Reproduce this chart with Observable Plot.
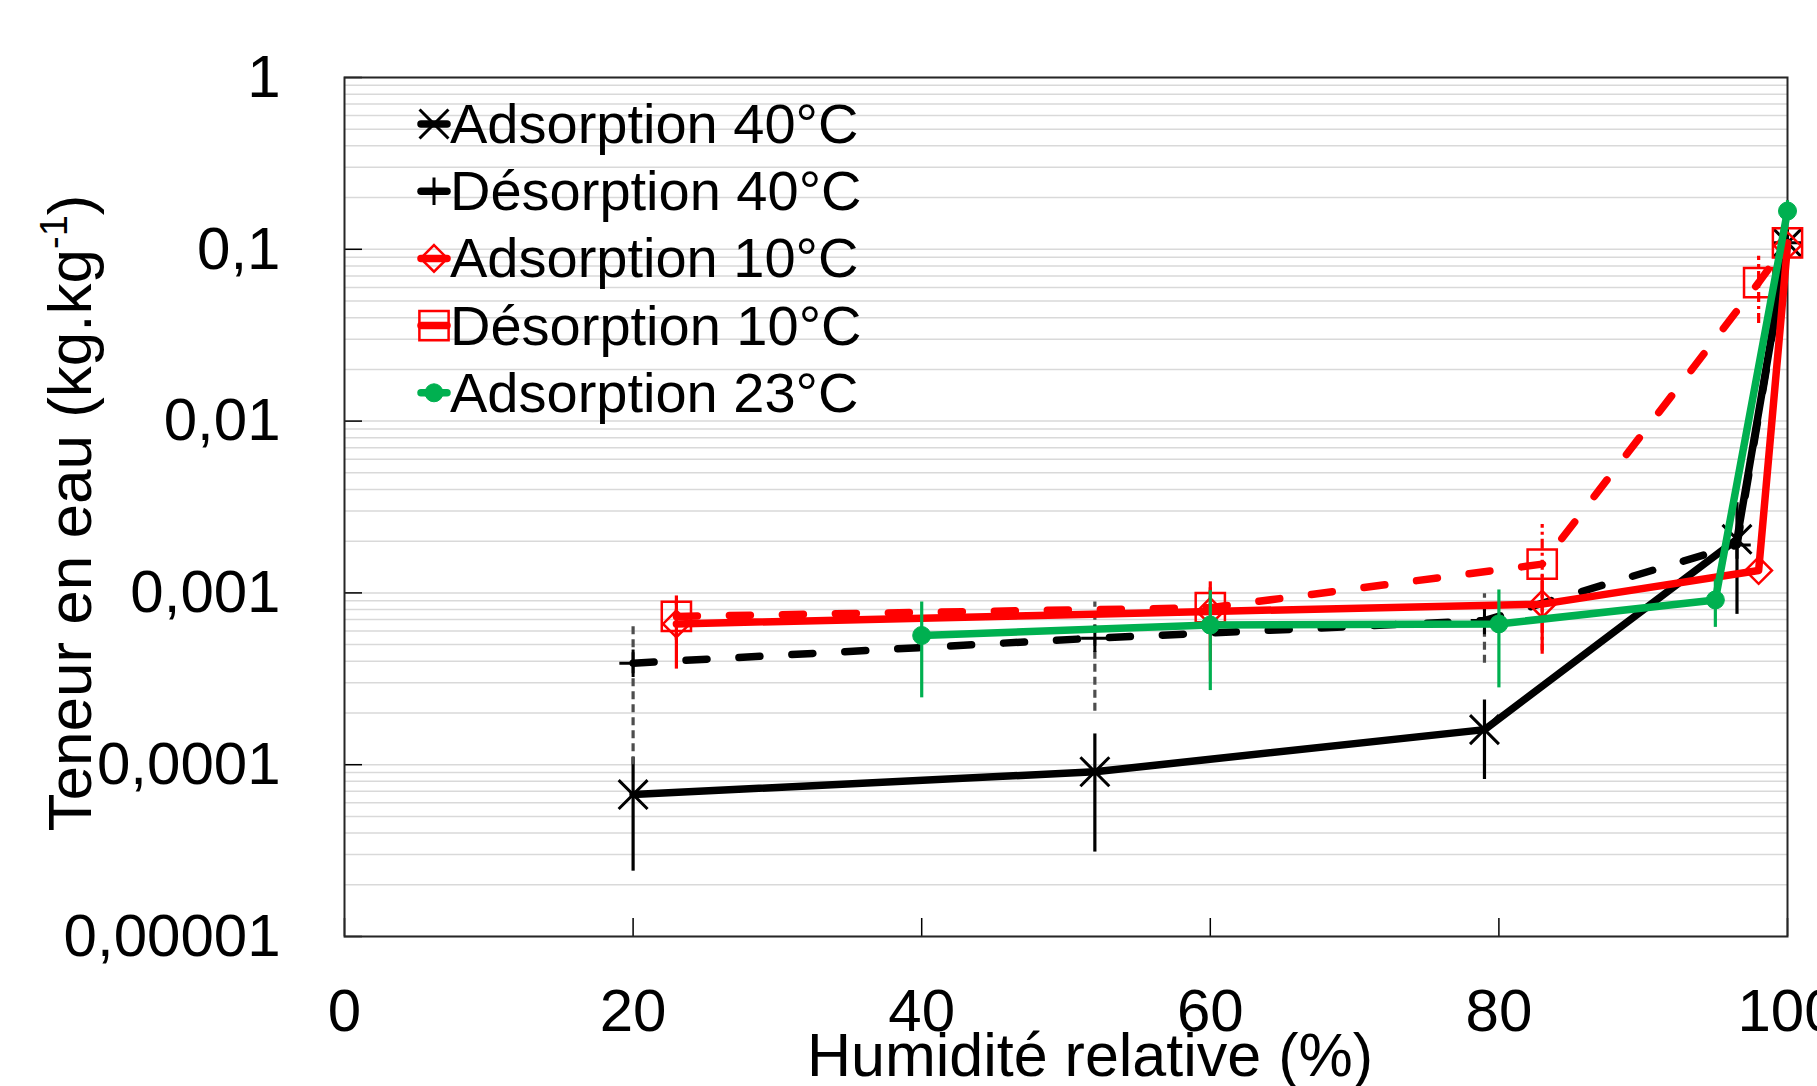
<!DOCTYPE html>
<html><head><meta charset="utf-8">
<script src="https://cdn.jsdelivr.net/npm/d3@7"></script>
<script src="https://cdn.jsdelivr.net/npm/@observablehq/plot@0.6"></script>
<style>
body{margin:0;background:#fff;}
#chart{position:relative;width:1817px;height:1086px;overflow:hidden;background:#fff}
</style>
</head><body><div id="chart"></div>
<script>
// ---- data ----
const xTicks = [0, 20, 40, 60, 80, 100];
const yTicks = [1e-5, 1e-4, 1e-3, 1e-2, 1e-1, 1];
const yTickLabels = ["0,00001", "0,0001", "0,001", "0,01", "0,1", "1"];
const seriesNames = ["Adsorption 40°C", "Désorption 40°C", "Adsorption 10°C", "Désorption 10°C", "Adsorption 23°C"];

const ads40X = [20, 52, 79, 96.5, 100];
const ads40Y = [6.7e-5, 9.1e-5, 1.6e-4, 2.05e-3, 0.109];
const ads40Err = [4.3e-5, 6.0e-5, 7.8e-5, 1.3e-3, 0];

const des40X = [20, 52, 79, 96.5, 100];
const des40Y = [3.9e-4, 5.45e-4, 6.9e-4, 1.9e-3, 0.109];
const des40Err = [2.9e-4, 3.4e-4, 3.0e-4, 0, 0];

const ads10X = [23, 60, 83, 98, 100];
const ads10Y = [6.6e-4, 7.8e-4, 8.6e-4, 1.35e-3, 0.105];
const ads10Err = [3.0e-4, 3.8e-4, 4.0e-4, 0, 0];

const des10X = [23, 60, 83, 98, 100];
const des10Y = [7.3e-4, 8.2e-4, 1.47e-3, 0.064, 0.109];
const des10Err = [2.0e-4, 2.5e-4, 1.03e-3, 0.027, 0];

const ads23X = [40, 60, 80, 95, 100];
const ads23Y = [5.65e-4, 6.5e-4, 6.6e-4, 9.1e-4, 0.167];
const ads23Err = [3.2e-4, 3.8e-4, 3.8e-4, 2.8e-4, 0.025];

// ---- build tables ----
const rows = (xs, ys, es) => xs.map((x, i) => ({x, y: ys[i], e: es[i]}));
const FONT = "'Liberation Sans', Arial, Helvetica, sans-serif";
const series = [
  {data: rows(ads40X, ads40Y, ads40Err), color: "#000000", dash: null, symbol: "times", r: 13.2, fill: "none", sw: 3, barColor: "#000000", barDash: null},
  {data: rows(des40X, des40Y, des40Err), color: "#000000", dash: "21,32", symbol: "plus", r: 8.9, fill: "none", sw: 3, barColor: "#4d4d4d", barDash: "8,5"},
  {data: rows(ads10X, ads10Y, ads10Err), color: "#ff0000", dash: null, symbol: "diamond2", r: 12, fill: "none", sw: 2.5, barColor: "#ff0000", barDash: null},
  {data: rows(des10X, des10Y, des10Err), color: "#ff0000", dash: "21,32", symbol: "square2", r: 18.6, fill: "none", sw: 2.5, barColor: "#ff0000", barDash: "10,4,3,4"},
  {data: rows(ads23X, ads23Y, ads23Err), color: "#00b050", dash: null, symbol: "circle", r: 9, fill: "#00b050", sw: 1, barColor: "#00b050", barDash: null}
];

const W = 1817, H = 1086;
const mL = 344, mR = 30, mT = 77, mB = 150;
const plotW = W - mL - mR, plotH = H - mT - mB;

const gridValues = d3.scaleLog().domain([1e-5, 1]).ticks();

const marks = [
  Plot.ruleY(gridValues, {y: d => d, stroke: "#d9d9d9", strokeWidth: 1.5}),
  Plot.tickX(xTicks, {x: d => d, stroke: "#000", strokeWidth: 1.5, insetTop: plotH - 18}),
  Plot.tickY(yTicks, {y: d => d, stroke: "#000", strokeWidth: 1.5, insetRight: plotW - 18}),
  Plot.frame({stroke: "#262626", strokeWidth: 2})
];

for (const s of series) {
  const withErr = s.data.filter(d => d.e > 0);
  marks.push(Plot.ruleX(withErr, {x: "x", y1: d => Math.max(d.y - d.e, 1.1e-5), y2: d => d.y + d.e,
    stroke: s.barColor, strokeWidth: 3.2, strokeDasharray: s.barDash}));
  marks.push(Plot.line(s.data, {x: "x", y: "y", stroke: s.color, strokeWidth: 7.5,
    strokeDasharray: s.dash, strokeLinecap: "round", strokeLinejoin: "round"}));
  marks.push(Plot.dot(s.data, {x: "x", y: "y", symbol: s.symbol, r: s.r, stroke: s.color,
    fill: s.fill, strokeWidth: s.sw}));
}

marks.push(Plot.axisX({ticks: xTicks, tickSize: 0, tickPadding: 52, tickFormat: d => String(d),
  fontSize: 60, fontFamily: FONT, fill: "#000", label: null}));
marks.push(Plot.axisY({ticks: yTicks, tickSize: 0, tickPadding: 64,
  tickFormat: d => yTickLabels[yTicks.findIndex(t => Math.abs(Math.log10(t) - Math.log10(d)) < 1e-6)],
  fontSize: 60, fontFamily: FONT, fill: "#000", label: null}));

const chart = Plot.plot({
  width: W, height: H,
  marginLeft: mL, marginRight: mR, marginTop: mT, marginBottom: mB,
  x: {domain: [0, 100]},
  y: {type: "log", domain: [1e-5, 1]},
  style: {fontFamily: FONT, background: "#fff", overflow: "hidden"},
  marks
});
document.getElementById("chart").appendChild(chart);

// ---- titles and legend ----
const svg = d3.select(chart);
svg.append("text")
  .attr("x", 1090).attr("y", 1076)
  .attr("text-anchor", "middle")
  .attr("font-family", FONT).attr("font-size", 61).attr("fill", "#000")
  .text("Humidité relative (%)");

const yt = svg.append("text")
  .attr("transform", "translate(91,513) rotate(-90)")
  .attr("text-anchor", "middle")
  .attr("font-family", FONT).attr("font-size", 62).attr("fill", "#000");
yt.append("tspan").text("Teneur en eau (kg.kg");
yt.append("tspan").attr("font-size", 38).attr("dy", -24).text("-1");
yt.append("tspan").attr("dy", 24).text(")");

const symMap = {times: d3.symbolTimes, plus: d3.symbolPlus, diamond2: d3.symbolDiamond2, square2: d3.symbolSquare2, circle: d3.symbolCircle};
const lg = svg.append("g").attr("text-anchor", "start");
series.forEach((s, i) => {
  const cy = 124 + i * 67.2;
  lg.append("line").attr("x1", 421).attr("x2", 447).attr("y1", cy).attr("y2", cy)
    .attr("stroke", s.color).attr("stroke-width", 7.5).attr("stroke-linecap", "round");
  lg.append("path")
    .attr("d", d3.symbol(symMap[s.symbol], Math.PI * s.r * s.r)())
    .attr("transform", `translate(434,${cy})`)
    .attr("fill", s.fill).attr("stroke", s.color).attr("stroke-width", s.sw);
  lg.append("text").attr("x", 450).attr("y", cy + 19)
    .attr("text-anchor", "start")
    .attr("font-family", FONT).attr("font-size", 56).attr("fill", "#000")
    .text(seriesNames[i]);
});
</script>
</body></html>
